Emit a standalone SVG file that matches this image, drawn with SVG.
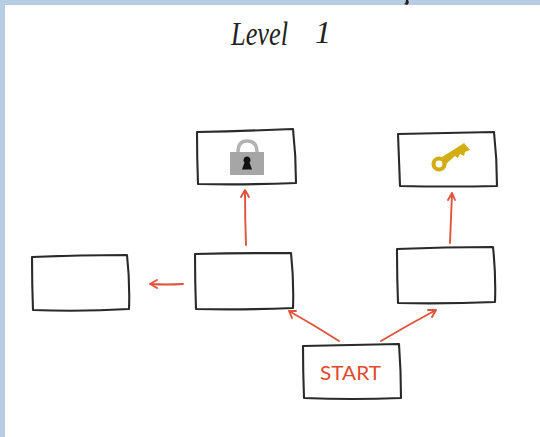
<svg xmlns="http://www.w3.org/2000/svg" width="540" height="437" viewBox="0 0 540 437">
<style>
.box{fill:#fff;stroke:#2a2a2a;stroke-width:2.100;stroke-linejoin:round}
.arrow{fill:none;stroke:#e0533d;stroke-width:1.900;stroke-linecap:round;stroke-linejoin:round}
.title{font-family:"Liberation Serif",serif;font-style:italic;fill:#222}
.start{font-family:"Lato","Liberation Sans",sans-serif;font-weight:400;font-size:19px;fill:#e2492c}
</style>
<rect width="540" height="437" fill="#fff"/>
<path d="M0 0H540V5H5V437H0Z" fill="#b8cce4"/>
<path d="M408 0q2 3-1 5l-3-1q2-1 2-4Z" fill="#222"/>
<text class="title" x="231" y="45" font-size="34" textLength="57" lengthAdjust="spacingAndGlyphs">Level</text>
<text class="title" x="315" y="43" font-size="32" textLength="16" lengthAdjust="spacingAndGlyphs">1</text>
<g id="connectors">
<path class="arrow" d="M246 245Q245 218 245 191M241 197L245 190L249 197"/>
<path class="arrow" d="M450 243Q451 218 452 193M448 200L452 193L455 200"/>
<path class="arrow" d="M183 284Q166 285 150 284M157 280L150 284L157 288"/>
<path class="arrow" d="M339 341Q314 325 289 311M296 311L289 311L292 318"/>
<path class="arrow" d="M381 341Q408 325 436 310M428 310L436 310L432 317"/>
</g>
<g id="node-lock">
<path class="box" d="M197 132Q245 131 293 129Q296 156 296 183Q247 185 198 184Q197 158 197 132Z"/>
<path d="M238 152Q238 141 247 141Q257 141 257 152" fill="none" stroke="#b3b3b3" stroke-width="3.500"/>
<rect x="230" y="152" width="34" height="23" fill="#a6a6a6"/>
<path d="M247 156.500a3.500 3.500 0 0 1 2.500 6l2.500 7h-10l2.500-7a3.500 3.500 0 0 1 2.500-6Z" fill="#111"/>
</g>
<g id="node-key">
<path class="box" d="M398 134Q446 133 494 132Q497 159 497 186Q449 187 400 186Q399 160 398 134Z"/>
<circle cx="439" cy="164" r="5.500" fill="none" stroke="#d2ae14" stroke-width="4.200"/>
<path d="M442 157L461 145L464 143L470 150L465 152L464 156L460 154L458 158L455 156L446 164Z" fill="#d2ae14"/>
</g>
<g id="node-left"><path class="box" d="M32 257Q80 255 127 255Q130 282 129 309Q80 312 33 310Q32 284 32 257Z"/></g>
<g id="node-middle"><path class="box" d="M195 254Q243 253 291 253Q294 281 293 308Q244 310 196 309Q195 282 195 254Z"/></g>
<g id="node-right"><path class="box" d="M397 249Q445 247 493 247Q496 275 495 302Q446 304 398 303Q397 276 397 249Z"/></g>
<g id="node-start">
<path class="box" d="M303 346Q351 345 399 344Q401 371 401 398Q352 400 304 398Q303 372 303 346Z"/>
<text class="start" x="320" y="380" textLength="61" lengthAdjust="spacingAndGlyphs">START</text>
</g>
</svg>
